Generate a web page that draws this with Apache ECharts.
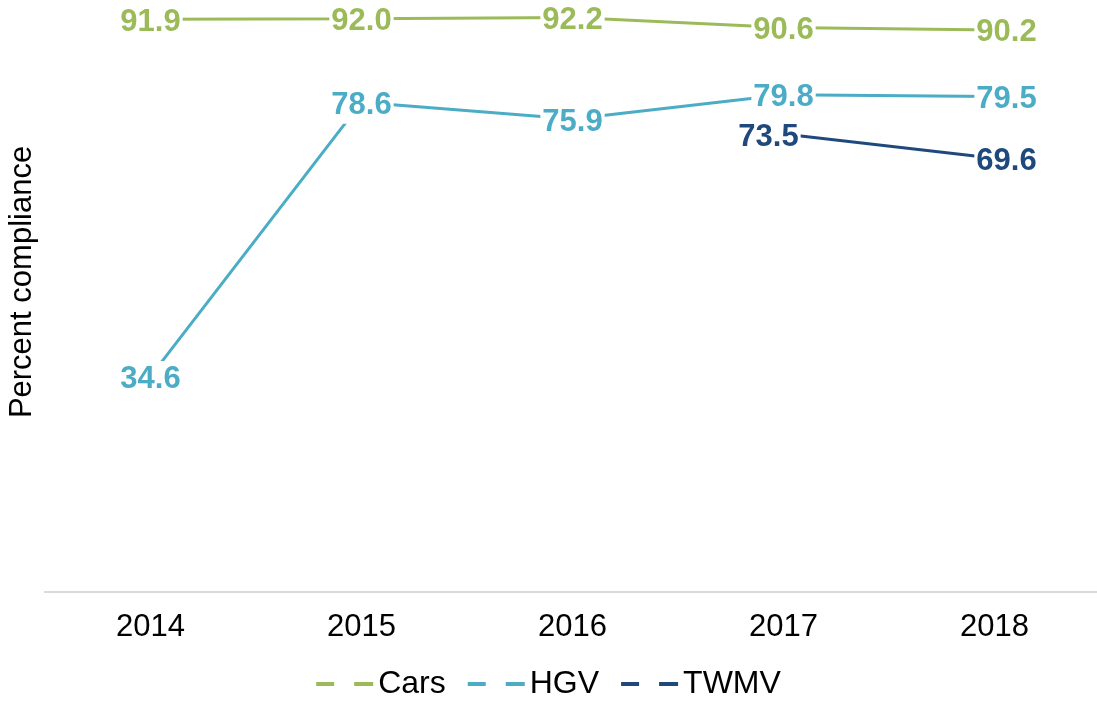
<!DOCTYPE html>
<html>
<head>
<meta charset="utf-8">
<script src="https://cdn.jsdelivr.net/npm/echarts@6/dist/echarts.min.js"></script>
<style>
  html, body { margin: 0; padding: 0; background: #fff; }
  #chart { width: 1097px; height: 709px; }
</style>
</head>
<body>
<div id="chart"></div>
<script>
// data
var years = ['2014', '2015', '2016', '2017', '2018'];
var cars = [91.9, 92.0, 92.2, 90.6, 90.2];
var hgv = [34.6, 78.6, 75.9, 79.8, 79.5];
var twmv = [null, null, null, 73.5, 69.6];

var colors = {Cars: '#9bbb59', HGV: '#4bacc6', TWMV: '#1f497d'};
var font = '"Liberation Sans", Arial, sans-serif';

var myChart = echarts.init(document.getElementById('chart'));

// label nudges like in the original (last year pushed right, TWMV start pushed left)
function labelOffset(name, values, i) {
    var first = 0;
    while (values[first] == null) first++;
    if (i === values.length - 1) return [12, 3];
    if (name === 'TWMV' && i === first) return [-15, 3];
    return [0, 3];
}

function makeSeries(name, values) {
    var data = [];
    for (var i = 0; i < values.length; i++) {
        if (values[i] == null) { data.push(null); continue; }
        data.push({value: values[i], label: {offset: labelOffset(name, values, i)}});
    }
    return {
        name: name,
        type: 'line',
        data: data,
        symbol: 'circle',
        symbolSize: 0,
        showSymbol: true,
        connectNulls: false,
        lineStyle: {color: colors[name], width: 3},
        itemStyle: {color: colors[name]},
        label: {
            show: true,
            position: 'inside',
            color: colors[name],
            fontFamily: font,
            fontSize: 31,
            fontWeight: 'bold',
            backgroundColor: '#fff',
            padding: [3, 2],
            formatter: function (p) { return p.value.toFixed(1); }
        },
        emphasis: {disabled: true},
        animation: false
    };
}

var dashIcon = 'path://M0,0h18v4h-18z M38,0h19v4h-19z';

var option = {
    animation: false,
    grid: {left: 45, right: -3, top: 0, bottom: 117, containLabel: false, outerBoundsMode: 'none'},
    legend: {
        bottom: 4,
        left: 'center',
        itemWidth: 57,
        itemHeight: 4,
        itemGap: 22,
        textStyle: {color: '#000', fontFamily: font, fontSize: 32},
        data: [
            {name: 'Cars', icon: dashIcon},
            {name: 'HGV', icon: dashIcon},
            {name: 'TWMV', icon: dashIcon}
        ]
    },
    xAxis: {
        type: 'category',
        data: years,
        boundaryGap: true,
        axisLine: {lineStyle: {color: '#d9d9d9', width: 2}},
        axisTick: {show: false},
        axisLabel: {color: '#000', fontFamily: font, fontSize: 31, margin: 20},
        splitLine: {show: false}
    },
    yAxis: {
        type: 'value',
        min: 0,
        max: 95,
        name: 'Percent compliance',
        nameLocation: 'middle',
        nameGap: 7,
        nameTextStyle: {color: '#000', fontFamily: font, fontSize: 31, padding: [0, 0, 0, 28]},
        axisLine: {show: false},
        axisTick: {show: false},
        axisLabel: {show: false},
        splitLine: {show: false}
    },
    series: [
        makeSeries('Cars', cars),
        makeSeries('HGV', hgv),
        makeSeries('TWMV', twmv)
    ]
};

myChart.setOption(option);
</script>
</body>
</html>
